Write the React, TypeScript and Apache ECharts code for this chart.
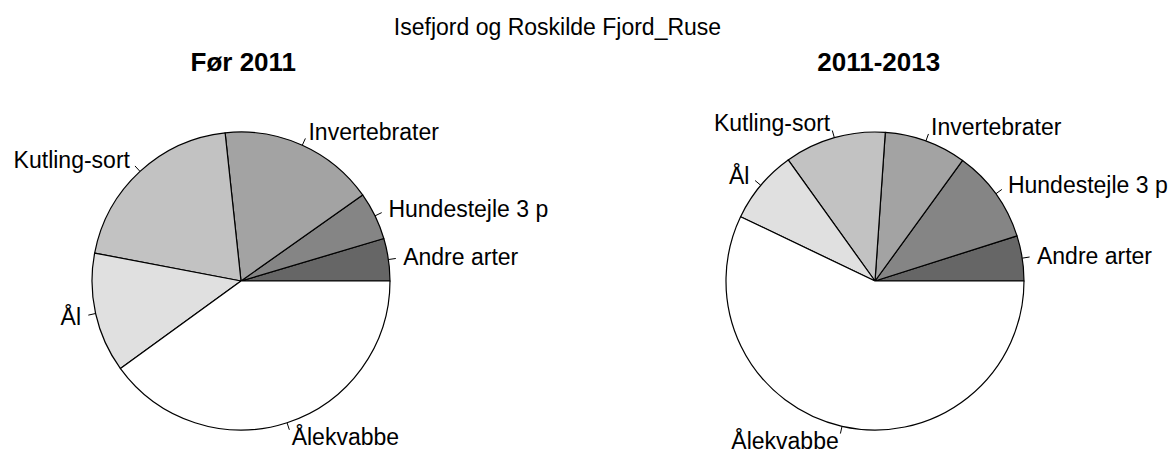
import React, { useEffect, useRef } from "react";
import * as echarts from "echarts";

const categories = ["Andre arter", "Hundestejle 3 p", "Invertebrater", "Kutling-sort", "Ål", "Ålekvabbe"];
const colors = ["#666666", "#858585", "#A3A3A3", "#C2C2C2", "#E0E0E0", "#FFFFFF"];
const before2011 = [4.6, 5.2, 16.9, 20.3, 13.0, 40.0];
const period2011_2013 = [4.9, 10.1, 8.9, 11.0, 8.0, 57.1];
const mainTitle = "Isefjord og Roskilde Fjord_Ruse";
const subTitles = ["Før 2011", "2011-2013"];

const FONT = "'Liberation Sans', Arial, sans-serif";
const R = 149;

function makePies(values: number[], cx: number) {
  const base = {
    type: "pie",
    center: [cx, 281],
    radius: R,
    startAngle: 0,
    clockwise: false,
    avoidLabelOverlap: false,
    silent: true,
    emphasis: { disabled: true },
  };
  // slices with their short tick marks (1.0r -> 1.05r)
  const slices = {
    ...base,
    data: categories.map((c, i) => ({
      name: c,
      value: values[i],
      itemStyle: { color: colors[i] },
    })),
    itemStyle: { borderColor: "#000", borderWidth: 1.2 },
    label: {
      show: true,
      position: "outside",
      formatter: " ",
      fontSize: 2,
      distanceToLabelLine: 0,
    },
    labelLine: {
      show: true,
      length: R * 0.05,
      length2: 0,
      smooth: false,
      lineStyle: { color: "#000", width: 1 },
    },
  };
  // labels placed at 1.1r on the mid-angle of each slice
  const labels = {
    ...base,
    z: 3,
    data: categories.map((c, i) => ({ name: c, value: values[i] })),
    itemStyle: { color: "rgba(0,0,0,0)", borderWidth: 0 },
    label: {
      show: true,
      position: "outside",
      color: "#000",
      fontFamily: FONT,
      fontSize: 23,
      distanceToLabelLine: 0,
      formatter: "{b}",
    },
    labelLine: { show: false, length: R * 0.1, length2: 0 },
  };
  return [slices, labels];
}

export default function App() {
  const ref = useRef<HTMLDivElement>(null);
  useEffect(() => {
    document.body.style.margin = "0";
    const chart = echarts.init(ref.current!, null, { renderer: "svg" });
    chart.setOption({
      animation: false,
      backgroundColor: "#fff",
      title: [
        {
          text: mainTitle,
          left: 552.5,
          top: 10.5,
          textAlign: "center",
          textStyle: { fontFamily: FONT, fontSize: 23, fontWeight: "normal", color: "#000" },
        },
        {
          text: subTitles[0],
          left: 238.3,
          top: 44,
          textAlign: "center",
          textStyle: { fontFamily: FONT, fontSize: 26, fontWeight: "bold", color: "#000" },
        },
        {
          text: subTitles[1],
          left: 873.7,
          top: 44,
          textAlign: "center",
          textStyle: { fontFamily: FONT, fontSize: 26, fontWeight: "bold", color: "#000" },
        },
      ],
      series: [...makePies(before2011, 241), ...makePies(period2011_2013, 875)],
    });
    return () => chart.dispose();
  }, []);
  return (
    <div
      ref={ref}
      style={{ position: "fixed", left: 0, top: 0, width: 1171, height: 453 }}
    />
  );
}
